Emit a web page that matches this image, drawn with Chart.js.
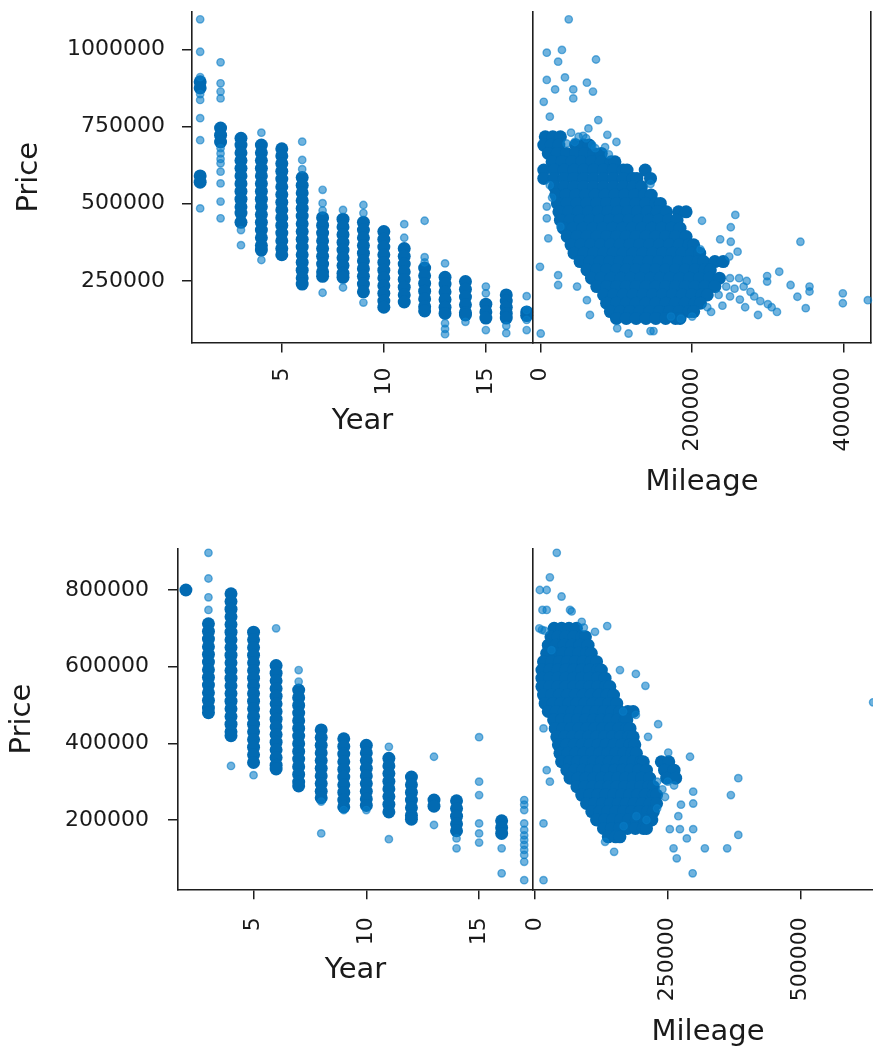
<!DOCTYPE html>
<html>
<head>
<meta charset="utf-8">
<script src="https://cdn.jsdelivr.net/npm/chart.js@4.4.1/dist/chart.umd.min.js"></script>
<style>
html,body{margin:0;padding:0;background:#fff;overflow:hidden;width:873px;height:1055px;position:relative}
canvas{position:absolute;left:0;top:0}
</style>
</head>
<body>
<canvas id="tl"></canvas>
<canvas id="tr"></canvas>
<canvas id="bl"></canvas>
<canvas id="br"></canvas>
<script>
// ---------------- DATA (prices and mileages in thousands) ----------------
const YEARS = [1,2,3,4,5,6,7,8,9,10,11,12,13,14,15,16,17];

// Top row, Year vs Price: isolated points per year
const tlSparse = [
  [1097, 992, 910, 855, 836, 777, 706, 485],
  [958, 890, 863, 841, 680, 663, 645, 631, 604, 566, 507, 453],
  [415, 366],
  [730, 318],
  [],
  [701, 642, 612],
  [545, 502, 478, 212],
  [480, 229],
  [496, 470, 180],
  [],
  [434, 390],
  [445, 327, 310],
  [307, 113, 95, 78],
  [118],
  [232, 210, 91],
  [105, 81],
  [201, 156, 124, 91]
];
// Top row, Year vs Price: densely packed points per year
const tlCore = [
  [895, 875, 590, 570],
  [745, 722, 700],
  [712, 690, 665, 640, 615, 590, 565, 540, 515, 490, 470, 440],
  [690, 665, 640, 615, 590, 565, 540, 515, 490, 465, 440, 415, 390, 365, 350],
  [678, 655, 630, 605, 580, 555, 530, 505, 480, 455, 430, 405, 380, 355, 335],
  [585, 560, 535, 510, 485, 460, 435, 410, 385, 360, 335, 310, 285, 260, 240],
  [455, 430, 405, 380, 355, 330, 305, 280, 265],
  [450, 425, 400, 375, 350, 325, 300, 275, 262],
  [440, 415, 390, 365, 340, 315, 290, 265, 240, 215],
  [410, 385, 360, 335, 310, 285, 260, 235, 210, 185, 165],
  [355, 330, 305, 280, 255, 230, 205, 182],
  [292, 267, 242, 217, 192, 167, 153],
  [262, 240, 215, 190, 165, 145],
  [248, 223, 198, 173, 148, 140],
  [175, 150, 130],
  [205, 185, 165, 145, 130],
  [150, 138]
];

// Top row, Mileage vs Price: isolated points
const trSparseMileage = [37, 8, 28, 23, 73, 8, 32, 19, 43, 61, 69, 43, 4, 12, 76, 63, 88, 68, 85, 145, 8, 8, 26, 10, 257, 213, 251, 237, 251, 343, 260, 249, 211, 315, 299, 299, 330, 355, 355, 339, 399, 399, 432, 350, -1, 23, 23, 48, 61, 65, 101, 116, 145, 149, 0, 250, 262, 272, 245, 256, 268, 277, 235, 250, 263, 290, 305, 312, 300, 270, 240, 225, 220, 200, 185, 172, 287, 282, 12, 15, 45, 100, 40, 56, 50, 60, 34, 72, 90];
const trSparsePrice   = [1097, 989, 998, 960, 967, 901, 909, 870, 870, 892, 863, 841, 830, 782, 771, 744, 723, 690, 683, 564, 491, 453, 426, 388, 464, 445, 424, 385, 377, 377, 345, 329, 352, 280, 266, 248, 237, 232, 216, 199, 210, 178, 188, 162, 296, 269, 237, 232, 188, 140, 97, 80, 88, 88, 80, 259, 259, 250, 232, 225, 232, 215, 205, 200, 190, 185, 165, 150, 175, 165, 170, 150, 165, 135, 128, 135, 140, 200, 560, 520, 700, 700, 730, 720, 717, 712, 695, 680, 660];
// Top row, Mileage vs Price: dense cloud, read row by row
const trRowPrice = [717, 690, 663, 636, 609, 582, 555, 528, 501, 474, 447, 421, 394, 367, 340, 313, 286, 259, 232, 205, 178, 151, 129];
const trRowMileage = [
  [6, 16, 26],
  [4, 14, 24, 46, 56, 64],
  [10, 22, 34, 46, 58, 70, 80],
  [15, 28, 41, 54, 67, 80, 93, 98],
  [4, 18, 31, 44, 57, 70, 83, 96, 109, 114, 138],
  [4, 18, 31, 44, 57, 70, 83, 96, 109, 122, 127, 145],
  [18, 31, 44, 57, 70, 83, 96, 109, 122, 133],
  [20, 33, 46, 59, 72, 85, 98, 111, 124, 137, 146],
  [22, 35, 48, 61, 74, 87, 100, 113, 126, 139, 152, 158],
  [24, 37, 50, 63, 76, 89, 102, 115, 128, 141, 154, 166, 182, 192],
  [26, 39, 52, 65, 78, 91, 104, 117, 130, 143, 156, 169, 180],
  [30, 43, 56, 69, 82, 95, 108, 121, 134, 147, 160, 173, 184],
  [35, 48, 61, 74, 87, 100, 113, 126, 139, 152, 165, 178, 192],
  [40, 53, 66, 79, 92, 105, 118, 131, 144, 157, 170, 183, 196, 202],
  [44, 57, 70, 83, 96, 109, 122, 135, 148, 161, 174, 187, 200, 210],
  [52, 65, 78, 91, 104, 117, 130, 143, 156, 169, 182, 195, 208, 215, 230, 241],
  [61, 74, 87, 100, 113, 126, 139, 152, 165, 178, 191, 204, 217, 224],
  [67, 80, 93, 106, 119, 132, 145, 158, 171, 184, 197, 210, 223, 236],
  [74, 87, 100, 113, 126, 139, 152, 165, 178, 191, 204, 217, 230],
  [83, 96, 109, 122, 135, 148, 161, 174, 187, 200, 213, 220],
  [87, 100, 113, 126, 139, 152, 165, 178, 191, 204, 211],
  [92, 105, 118, 131, 144, 157, 170, 183, 196, 202],
  [100, 113, 126, 139, 152, 165, 178, 184]
];

// Bottom row, Year vs Price
const blSparse = [
  [], [],
  [897, 830, 781, 748],
  [341],
  [317],
  [700],
  [591, 561],
  [248, 165],
  [226],
  [226],
  [391, 150],
  [],
  [365, 187],
  [152, 126],
  [416, 300, 265, 191, 165, 141],
  [126, 61],
  [252, 240, 226, 191, 174, 160, 148, 135, 122, 109, 91, 43]
];
const blCore = [
  [],
  [800],
  [712, 692, 672, 652, 632, 612, 592, 572, 552, 532, 512, 492, 480],
  [790, 770, 750, 730, 710, 690, 670, 650, 630, 610, 590, 570, 550, 530, 510, 490, 470, 450, 430, 420],
  [690, 670, 650, 630, 610, 590, 570, 550, 530, 510, 490, 470, 450, 430, 410, 390, 370, 350],
  [603, 583, 563, 543, 523, 503, 483, 463, 443, 423, 403, 383, 363, 343, 333],
  [539, 519, 499, 479, 459, 439, 419, 399, 379, 359, 339, 319, 299, 289],
  [435, 415, 395, 375, 355, 335, 315, 295, 275, 258],
  [412, 392, 372, 352, 332, 312, 292, 272, 252, 234],
  [395, 375, 355, 335, 315, 295, 275, 255, 238],
  [361, 341, 321, 301, 281, 261, 241, 221],
  [312, 292, 272, 252, 232, 212, 202],
  [252, 236],
  [250, 230, 210, 190, 172],
  [],
  [198, 180, 165],
  []
];

// Bottom row, Mileage vs Price
const brSparseMileage = [41, 28, 9, 22, 50, 14, 22, 66, 69, 88, 113, 136, 13, 31, 160, 190, 208, 232, 190, 166, 16, 213, 251, 292, 383, 369, 298, 298, 22, 28, 16, 254, 273, 298, 286, 261, 267, 320, 362, 383, 297, 16, 149, 132, 191, 167, 637, 250, 262, 240, 245, 230, 275, 270, 230, 210, 8, 18, 92];
const brSparsePrice   = [897, 833, 800, 800, 783, 748, 748, 748, 744, 717, 691, 706, 696, 643, 591, 581, 550, 450, 474, 483, 439, 417, 376, 365, 309, 265, 274, 243, 330, 300, 191, 176, 176, 176, 152, 126, 100, 126, 126, 161, 61, 43, 117, 143, 210, 184, 507, 300, 290, 280, 260, 300, 240, 210, 230, 200, 700, 694, 702];
const brRowPrice = [700, 678, 656, 635, 613, 591, 570, 548, 526, 504, 483, 461, 439, 417, 396, 374, 352, 330, 309, 287, 265, 243, 222, 200, 178, 156];
const brRowMileage = [
  [36, 50, 64, 78],
  [30, 43, 58, 73, 88, 95],
  [25, 40, 55, 70, 85, 100],
  [22, 37, 52, 67, 82, 97, 106],
  [16, 31, 46, 61, 76, 91, 106, 116],
  [13, 28, 43, 58, 73, 88, 103, 118, 125],
  [13, 28, 43, 58, 73, 88, 103, 118, 132],
  [13, 28, 43, 58, 73, 88, 103, 118, 133, 141],
  [16, 31, 46, 61, 76, 91, 106, 121, 136, 148],
  [19, 34, 49, 64, 79, 94, 109, 124, 139, 154],
  [25, 40, 55, 70, 85, 100, 115, 130, 145, 160, 175, 185],
  [35, 50, 65, 80, 95, 110, 125, 140, 155, 170, 173],
  [38, 53, 68, 83, 98, 113, 128, 143, 158, 173, 179],
  [41, 56, 71, 86, 101, 116, 131, 146, 161, 176, 185],
  [44, 59, 74, 89, 104, 119, 134, 149, 164, 179, 188],
  [47, 62, 77, 92, 107, 122, 137, 152, 167, 182, 191],
  [50, 65, 80, 95, 110, 125, 140, 155, 170, 185, 200, 204, 238, 252],
  [60, 75, 90, 105, 120, 135, 150, 165, 180, 195, 210, 244, 262],
  [66, 81, 96, 111, 126, 141, 156, 171, 186, 201, 216, 248, 265],
  [79, 94, 109, 124, 139, 154, 169, 184, 199, 214, 223],
  [88, 103, 118, 133, 148, 163, 178, 193, 208, 223, 229],
  [97, 112, 127, 142, 157, 172, 187, 202, 217, 229],
  [107, 122, 137, 152, 167, 182, 197, 212, 223],
  [116, 131, 146, 161, 176, 191, 206, 220],
  [129, 144, 159, 174, 189, 204, 210],
  [138, 152, 160]
];

// Tick labels
const tickPriceTop = [250000, 500000, 750000, 1000000];
const tickPriceBottom = [200000, 400000, 600000, 800000];
const tickYear = [5, 10, 15];
const tickMileageTop = [0, 200000, 400000];
const tickMileageBottom = [0, 250000, 500000];

// ---------------- helpers ----------------
const K = 1000;
const byYear = arr => arr.flatMap((ps, i) => ps.map(p => ({x: YEARS[i], y: p * K})));
const byRows = (prices, rows) => rows.flatMap((ms, i) => ms.map(m => ({x: m * K, y: prices[i] * K})));
const byPairs = (ms, ps) => ms.map((m, i) => ({x: m * K, y: ps[i] * K}));

const CORE = 'rgb(2,106,178)';
const SPARSE = 'rgba(8,124,198,0.58)';
const AX = '#1e1e1e';
const TXT = '#1a1a1a';
const FAM = '"DejaVu Sans", sans-serif';
const TICKFONT = {family: FAM, size: 22};
const TITLEFONT = {family: FAM, size: 29};
const CW = 900, CH = 1055;

function panel(id, o) {
  const c = document.getElementById(id);
  c.width = CW; c.height = CH;
  c.style.width = CW + 'px'; c.style.height = CH + 'px';
  const half = TITLEFONT.size * 1.2 / 2;
  const padLeft = o.yTitle ? o.yTitleX - half : o.left;
  const Wy = o.left - padLeft;
  const Hx = o.xTitleY - o.bottom + half;
  const padBottom = CH - o.bottom - Hx;
  const ticksFrom = arr => s => { s.ticks = arr.map(v => ({value: v})); };
  const scales = {
    x: {
      type: 'linear', min: o.xmin, max: o.xmax,
      afterBuildTicks: ticksFrom(o.xticks),
      afterFit: s => { s.height = Hx; s.paddingLeft = 0; s.paddingRight = 0; },
      ticks: {autoSkip: false, minRotation: 90, maxRotation: 90, padding: o.xpad,
              font: TICKFONT, color: TXT, callback: v => String(v)},
      grid: {display: true, drawOnChartArea: false, drawTicks: true, tickLength: 10,
             tickColor: AX, tickWidth: 1.5, color: AX, lineWidth: 1.5},
      border: {display: true, color: AX, width: 1.6},
      title: {display: true, text: o.xTitle, font: TITLEFONT, color: TXT, padding: 0}
    },
    y: {
      type: 'linear', min: o.ymin, max: o.ymax,
      afterBuildTicks: ticksFrom(o.yticks),
      afterFit: s => { s.width = Wy; s.paddingTop = 0; s.paddingBottom = 0; },
      ticks: {display: !!o.yTitle, padding: o.ypad || 0, font: TICKFONT, color: TXT, callback: v => String(v)},
      grid: {display: true, drawOnChartArea: false, drawTicks: !!o.yTitle, tickLength: 10,
             tickColor: AX, tickWidth: 1.5, color: AX, lineWidth: 1.5},
      border: {display: true, color: AX, width: 1.6},
      title: {display: !!o.yTitle, text: o.yTitle || '', font: TITLEFONT, color: TXT, padding: 0}
    }
  };
  if (o.rightSpine) {
    scales.y2 = {
      type: 'linear', position: 'right', display: true, min: 0, max: 1,
      afterFit: s => { s.width = 0; s.paddingTop = 0; s.paddingBottom = 0; },
      ticks: {display: false},
      grid: {display: true, drawOnChartArea: false, drawTicks: false, color: AX, lineWidth: 1.5},
      border: {display: true, color: AX, width: 1.6}
    };
  }
  new Chart(c, {
    type: 'scatter',
    data: {datasets: [
      {data: o.sparse, backgroundColor: SPARSE, borderColor: SPARSE, borderWidth: 1.4, pointRadius: 3.7, clip: false},
      {data: o.core, backgroundColor: CORE, borderColor: CORE, borderWidth: 0, pointRadius: 6.5, clip: false}
    ]},
    options: {
      responsive: false, animation: false, events: [],
      devicePixelRatio: 1,
      layout: {autoPadding: false, padding: {left: padLeft, top: o.top, right: CW - o.right, bottom: padBottom}},
      plugins: {legend: {display: false}, tooltip: {enabled: false}},
      scales
    }
  });
}

panel('tl', {
  left: 192, right: 533, top: 12, bottom: 342.5,
  xmin: 0.6, xmax: 17.31, xticks: tickYear, xTitle: 'Year', xTitleY: 421.5, xpad: 15,
  ymin: 50925, ymax: 1120740, yticks: tickPriceTop, yTitle: 'Price', yTitleX: 29, ypad: 17,
  sparse: byYear(tlSparse), core: byYear(tlCore)
});
panel('tr', {
  left: 533, right: 871, top: 12, bottom: 342.5,
  xmin: -10200, xmax: 436200, xticks: tickMileageTop, xTitle: 'Mileage', xTitleY: 482, xpad: 15,
  ymin: 50925, ymax: 1120740, yticks: tickPriceTop, rightSpine: true,
  sparse: byPairs(trSparseMileage, trSparsePrice), core: byRows(trRowPrice, trRowMileage)
});
panel('bl', {
  left: 178, right: 533, top: 549, bottom: 889.3,
  xmin: 1.65, xmax: 17.39, xticks: tickYear, xTitle: 'Year', xTitleY: 970, xpad: 18,
  ymin: 19217, ymax: 906957, yticks: tickPriceBottom, yTitle: 'Price', yTitleX: 22.5, ypad: 19,
  sparse: byYear(blSparse), core: byYear(blCore)
});
panel('br', {
  left: 533, right: 883, top: 549, bottom: 889.3,
  xmin: -3800, xmax: 655600, xticks: tickMileageBottom, xTitle: 'Mileage', xTitleY: 1032, xpad: 18,
  ymin: 19217, ymax: 906957, yticks: tickPriceBottom,
  sparse: byPairs(brSparseMileage, brSparsePrice), core: byRows(brRowPrice, brRowMileage)
});
</script>
</body>
</html>
